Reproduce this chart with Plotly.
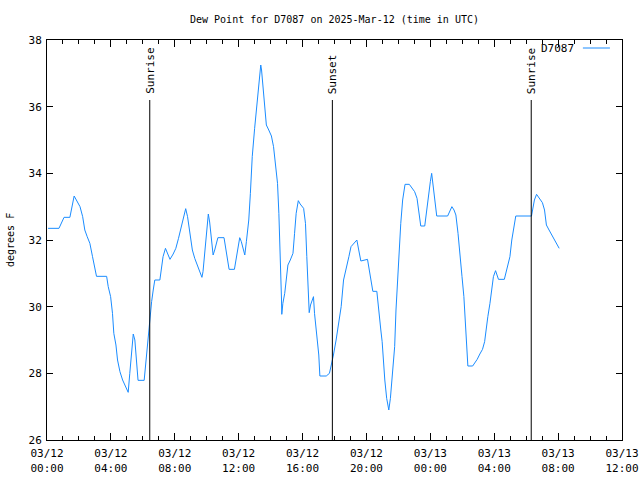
import plotly.graph_objects as go

# ---- data ----
times = [
    "2025-03-12 00:04", "2025-03-12 00:45", "2025-03-12 01:04", "2025-03-12 01:26", "2025-03-12 01:42",
    "2025-03-12 01:51", "2025-03-12 02:04", "2025-03-12 02:14", "2025-03-12 02:22", "2025-03-12 02:31",
    "2025-03-12 02:41", "2025-03-12 02:51", "2025-03-12 03:00", "2025-03-12 03:06", "2025-03-12 03:44",
    "2025-03-12 03:50", "2025-03-12 03:59", "2025-03-12 04:06", "2025-03-12 04:11", "2025-03-12 04:19",
    "2025-03-12 04:25", "2025-03-12 04:34", "2025-03-12 04:44", "2025-03-12 04:56", "2025-03-12 05:05",
    "2025-03-12 05:11", "2025-03-12 05:18", "2025-03-12 05:24", "2025-03-12 05:30", "2025-03-12 05:34",
    "2025-03-12 05:40", "2025-03-12 05:42", "2025-03-12 06:05", "2025-03-12 06:11", "2025-03-12 06:16",
    "2025-03-12 06:21", "2025-03-12 06:26", "2025-03-12 06:33", "2025-03-12 06:39", "2025-03-12 06:45",
    "2025-03-12 07:04", "2025-03-12 07:10", "2025-03-12 07:16", "2025-03-12 07:25", "2025-03-12 07:35",
    "2025-03-12 07:42", "2025-03-12 07:54", "2025-03-12 08:04", "2025-03-12 08:14", "2025-03-12 08:24",
    "2025-03-12 08:34", "2025-03-12 08:41", "2025-03-12 08:48", "2025-03-12 08:56", "2025-03-12 09:06",
    "2025-03-12 09:15", "2025-03-12 09:24", "2025-03-12 09:34", "2025-03-12 09:42", "2025-03-12 09:46",
    "2025-03-12 09:52", "2025-03-12 09:59", "2025-03-12 10:06", "2025-03-12 10:11", "2025-03-12 10:18",
    "2025-03-12 10:24", "2025-03-12 10:30", "2025-03-12 10:42", "2025-03-12 11:05", "2025-03-12 11:14",
    "2025-03-12 11:24", "2025-03-12 11:44", "2025-03-12 11:54", "2025-03-12 12:04", "2025-03-12 12:10",
    "2025-03-12 12:16", "2025-03-12 12:23", "2025-03-12 12:29", "2025-03-12 12:38", "2025-03-12 12:44",
    "2025-03-12 12:51", "2025-03-12 13:00", "2025-03-12 13:09", "2025-03-12 13:16", "2025-03-12 13:23",
    "2025-03-12 13:26", "2025-03-12 13:31", "2025-03-12 13:38", "2025-03-12 13:44", "2025-03-12 13:53",
    "2025-03-12 14:03", "2025-03-12 14:11", "2025-03-12 14:19", "2025-03-12 14:26", "2025-03-12 14:31",
    "2025-03-12 14:35", "2025-03-12 14:39", "2025-03-12 14:41", "2025-03-12 14:42", "2025-03-12 14:46",
    "2025-03-12 14:53", "2025-03-12 14:59", "2025-03-12 15:05", "2025-03-12 15:14", "2025-03-12 15:24",
    "2025-03-12 15:30", "2025-03-12 15:36", "2025-03-12 15:44", "2025-03-12 15:51", "2025-03-12 16:04",
    "2025-03-12 16:11", "2025-03-12 16:16", "2025-03-12 16:21", "2025-03-12 16:25", "2025-03-12 16:30",
    "2025-03-12 16:36", "2025-03-12 16:41", "2025-03-12 16:45", "2025-03-12 16:51", "2025-03-12 16:57",
    "2025-03-12 17:01", "2025-03-12 17:05", "2025-03-12 17:29", "2025-03-12 17:41", "2025-03-12 17:51",
    "2025-03-12 17:56", "2025-03-12 18:06", "2025-03-12 18:16", "2025-03-12 18:25", "2025-03-12 18:34",
    "2025-03-12 18:44", "2025-03-12 18:54", "2025-03-12 19:02", "2025-03-12 19:15", "2025-03-12 19:24",
    "2025-03-12 19:31", "2025-03-12 19:39", "2025-03-12 20:04", "2025-03-12 20:11", "2025-03-12 20:19",
    "2025-03-12 20:24", "2025-03-12 20:39", "2025-03-12 20:46", "2025-03-12 20:54", "2025-03-12 20:59",
    "2025-03-12 21:04", "2025-03-12 21:09", "2025-03-12 21:16", "2025-03-12 21:24", "2025-03-12 21:30",
    "2025-03-12 21:36", "2025-03-12 21:41", "2025-03-12 21:46", "2025-03-12 21:51", "2025-03-12 21:59",
    "2025-03-12 22:04", "2025-03-12 22:09", "2025-03-12 22:16", "2025-03-12 22:25", "2025-03-12 22:41",
    "2025-03-12 22:51", "2025-03-12 23:01", "2025-03-12 23:10", "2025-03-12 23:16", "2025-03-12 23:24",
    "2025-03-12 23:39", "2025-03-12 23:46", "2025-03-12 23:54", "2025-03-13 00:00", "2025-03-13 00:05",
    "2025-03-13 00:11", "2025-03-13 00:18", "2025-03-13 00:24", "2025-03-13 01:05", "2025-03-13 01:14",
    "2025-03-13 01:21", "2025-03-13 01:29", "2025-03-13 01:36", "2025-03-13 01:44", "2025-03-13 01:51",
    "2025-03-13 01:59", "2025-03-13 02:06", "2025-03-13 02:11", "2025-03-13 02:16", "2025-03-13 02:21",
    "2025-03-13 02:39", "2025-03-13 02:46", "2025-03-13 02:56", "2025-03-13 03:06", "2025-03-13 03:16",
    "2025-03-13 03:24", "2025-03-13 03:29", "2025-03-13 03:36", "2025-03-13 03:44", "2025-03-13 03:51",
    "2025-03-13 03:57", "2025-03-13 04:05", "2025-03-13 04:16", "2025-03-13 04:38", "2025-03-13 04:50",
    "2025-03-13 04:59", "2025-03-13 05:06", "2025-03-13 05:15", "2025-03-13 05:21", "2025-03-13 06:20",
    "2025-03-13 06:26", "2025-03-13 06:31", "2025-03-13 06:39", "2025-03-13 06:49", "2025-03-13 07:01",
    "2025-03-13 07:09", "2025-03-13 07:16", "2025-03-13 07:26", "2025-03-13 07:39", "2025-03-13 07:51",
    "2025-03-13 08:04",
]
dew_point = [
    32.35, 32.35, 32.68, 32.68, 33.32, 33.18, 33.00, 32.70, 32.30, 32.10,
    31.90, 31.50, 31.10, 30.91, 30.91, 30.60, 30.30, 29.80, 29.20, 28.85,
    28.40, 28.05, 27.80, 27.60, 27.43, 28.00, 28.60, 29.18, 29.00, 28.50,
    27.90, 27.79, 27.79, 28.30, 28.70, 29.30, 29.65, 30.15, 30.50, 30.80,
    30.80, 31.10, 31.50, 31.75, 31.55, 31.42, 31.58, 31.75, 32.05, 32.40,
    32.75, 32.94, 32.70, 32.20, 31.70, 31.45, 31.25, 31.05, 30.88, 31.05,
    31.65, 32.30, 32.78, 32.54, 32.00, 31.55, 31.70, 32.07, 32.07, 31.65,
    31.12, 31.12, 31.60, 32.07, 31.95, 31.75, 31.55, 31.95, 32.60, 33.40,
    34.50, 35.35, 36.05, 36.75, 37.25, 37.10, 36.70, 36.00, 35.45, 35.30,
    35.12, 34.80, 34.30, 33.70, 32.80, 31.90, 31.10, 30.20, 29.77, 30.10,
    30.40, 30.90, 31.25, 31.40, 31.60, 32.20, 32.80, 33.18, 33.08, 32.95,
    32.50, 31.50, 30.70, 29.82, 30.05, 30.20, 30.30, 29.80, 29.40, 28.90,
    28.55, 27.92, 27.92, 28.00, 28.35, 28.55, 29.00, 29.50, 30.00, 30.80,
    31.20, 31.50, 31.80, 31.92, 32.00, 31.70, 31.37, 31.42, 31.10, 30.70,
    30.46, 30.46, 30.00, 29.30, 28.95, 28.35, 27.80, 27.25, 26.90, 27.25,
    27.75, 28.15, 28.80, 29.90, 31.10, 31.80, 32.50, 33.20, 33.67, 33.67,
    33.55, 33.45, 33.25, 32.90, 32.42, 32.42, 32.90, 33.40, 33.75, 34.00,
    33.60, 33.10, 32.72, 32.72, 32.88, 33.00, 32.90, 32.75, 32.20, 31.50,
    30.90, 30.30, 29.50, 28.90, 28.22, 28.22, 28.30, 28.42, 28.58, 28.72,
    28.95, 29.30, 29.70, 30.10, 30.50, 30.90, 31.08, 30.82, 30.82, 31.20,
    31.50, 32.00, 32.50, 32.72, 32.72, 33.00, 33.20, 33.37, 33.25, 33.12,
    32.90, 32.45, 32.30, 32.12, 31.95, 31.75,
]

event_times = ["2025-03-12 06:26", "2025-03-12 17:52", "2025-03-13 06:19"]
event_labels = ["Sunrise", "Sunset", "Sunrise"]
event_top = 36.2

x_range = ["2025-03-12 00:00", "2025-03-13 12:00"]
y_range = [26, 38]
y_ticks = [26, 28, 30, 32, 34, 36, 38]

station = "D7087"
title_text = "Dew Point for D7087 on 2025-Mar-12 (time in UTC)"
y_title = "degrees F"
line_color = "#1a8cff"
font_family = "DejaVu Sans Mono"
fsize = 10

fig = go.Figure()
fig.add_trace(go.Scatter(
    x=times, y=dew_point, mode="lines", name=station,
    line=dict(color=line_color, width=1), showlegend=False,
))

# vertical sunrise / sunset markers
for t, lab in zip(event_times, event_labels):
    fig.add_shape(type="line", x0=t, x1=t, y0=y_range[0], y1=event_top,
                  xref="x", yref="y", line=dict(color="black", width=1))
    fig.add_annotation(x=t, y=event_top, xref="x", yref="y", text=lab,
                       textangle=-90, showarrow=False, xanchor="center",
                       yanchor="bottom", yshift=4,
                       font=dict(family=font_family, size=fsize + 1, color="black"))

# legend imitation (text left of line sample, as in gnuplot)
fig.add_annotation(x=0.920, y=0.980, xref="paper", yref="paper", text=station,
                   showarrow=False, xanchor="right", yanchor="middle",
                   font=dict(family=font_family, size=fsize + 1, color="black"))
fig.add_shape(type="line", x0=0.932, x1=0.979, y0=0.980, y1=0.980,
              xref="paper", yref="paper", line=dict(color=line_color, width=1))

# y-axis title
fig.add_annotation(x=-37 / 575, y=0.5, xref="paper", yref="paper", text=y_title,
                   showarrow=False, textangle=-90, xanchor="center", yanchor="middle",
                   font=dict(family=font_family, size=fsize, color="black"))

axis_common = dict(
    showline=True, linecolor="black", linewidth=1, mirror="allticks",
    ticks="inside", tickcolor="black", showgrid=False, zeroline=False,
    automargin=False,
    tickfont=dict(family=font_family, size=fsize + 1, color="black"),
)

fig.update_xaxes(
    type="date", range=x_range, dtick=4 * 3600 * 1000, tick0=x_range[0],
    tickformat="%m/%d<br>%H:%M", ticklen=7, ticklabelstandoff=3,
    minor=dict(dtick=3600 * 1000, ticks="inside", ticklen=4, tickcolor="black"),
    **axis_common,
)
fig.update_yaxes(
    range=y_range, tickvals=y_ticks, ticklen=6, ticklabelstandoff=2,
    **axis_common,
)

fig.update_layout(
    width=640, height=480,
    margin=dict(l=47, r=18, t=40, b=40, autoexpand=False),
    paper_bgcolor="white", plot_bgcolor="white",
    title=dict(text=title_text, x=0.5, xref="paper", y=1 - 19 / 480, yref="container",
               yanchor="middle", xanchor="center", automargin=False,
               font=dict(family=font_family, size=fsize, color="black")),
    font=dict(family=font_family, size=fsize, color="black"),
    showlegend=False,
)

fig.write_html("out.html", config={"displayModeBar": False},
               post_script="document.body.style.margin='0';document.body.style.padding='0';")
